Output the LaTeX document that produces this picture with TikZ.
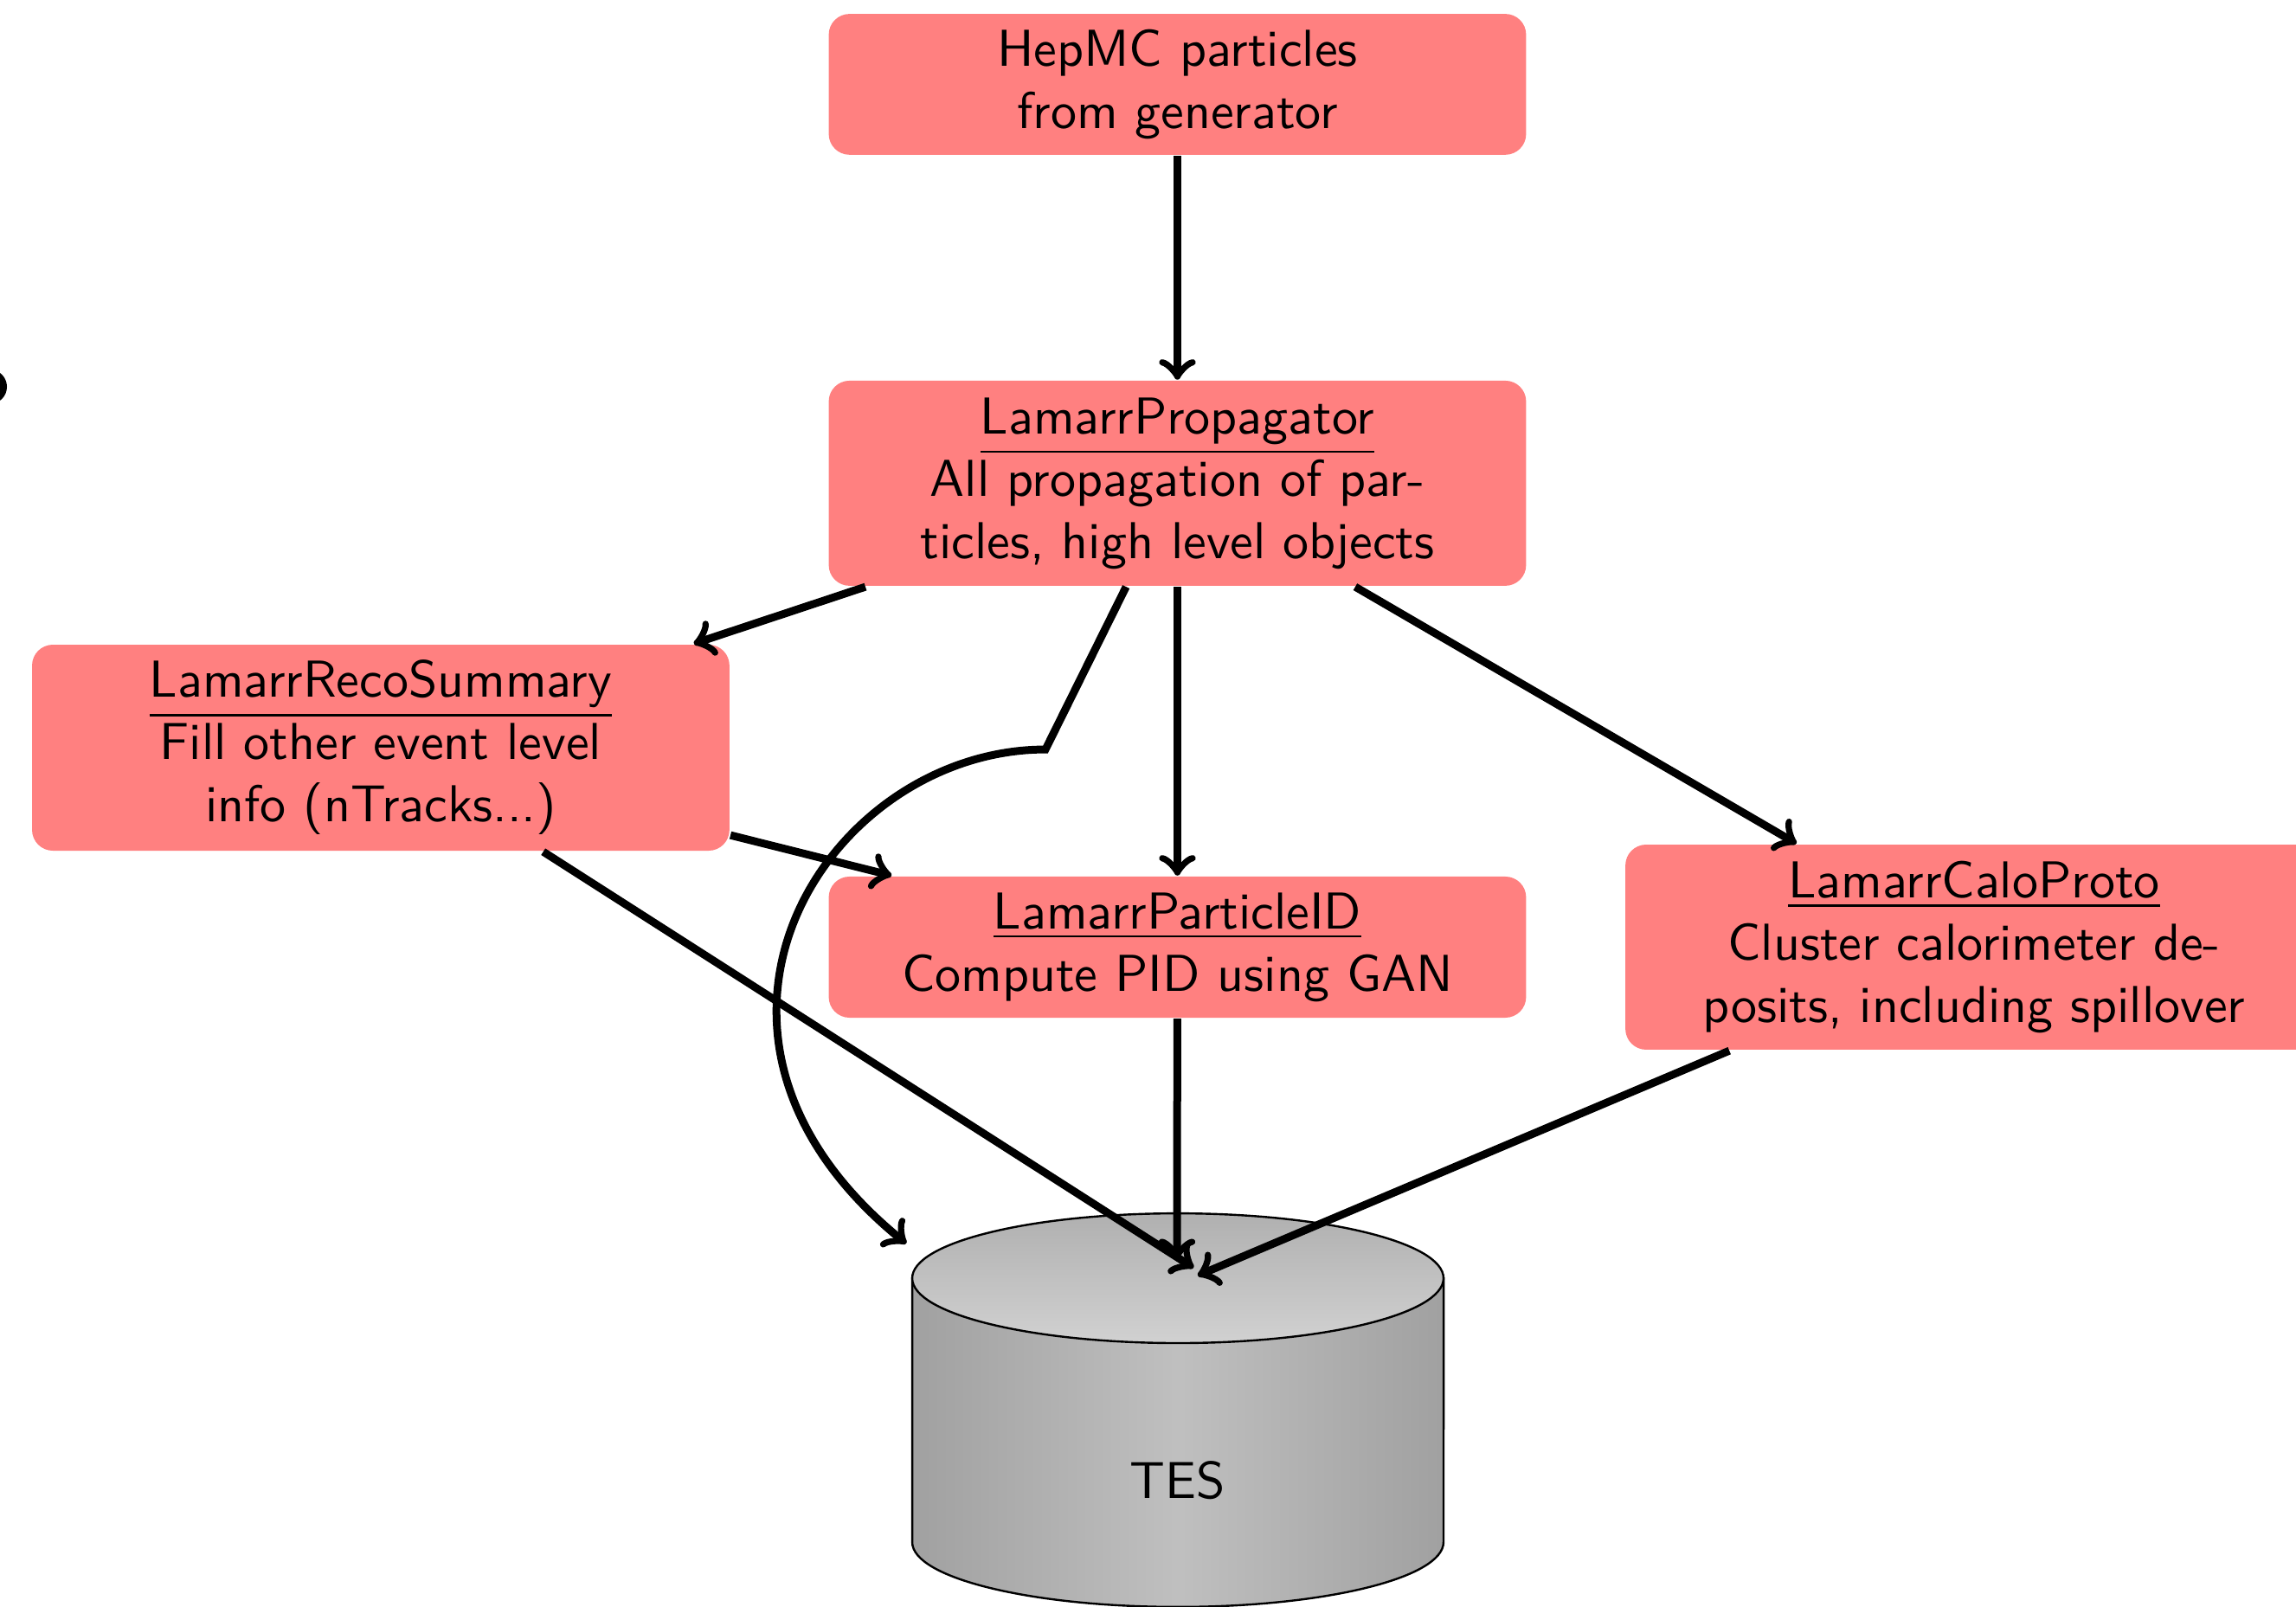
\documentclass[tikz,border=0pt]{standalone}
\usepackage{tikz}
\tikzset{
    algo-box/.style = {fill=red!50, rounded corners, align=center, minimum width=4.72cm, inner sep=3pt, font=\sffamily},
    flow-arrow/.style = {->, line width=1.5pt},
}

\begin{document}
\begin{tikzpicture}
\useasboundingbox (0,0) rectangle (15.54,-10.877);
\fill (-0.07,-2.618) circle (0.117);

\node[algo-box, minimum height=0.943cm] (hepmc) at (7.969,-0.571) {HepMC particles\\from generator};
\node[algo-box, minimum height=1.388cm] (prop) at (7.969,-3.271) {\underline{LamarrPropagator}\\All propagation of par-\\ticles, high level objects};
\node[algo-box, minimum height=1.394cm] (reco) at (2.577,-5.061) {\underline{LamarrRecoSummary}\\Fill other event level\\info (nTracks...)};
\node[algo-box, minimum height=0.955cm] (pid) at (7.969,-6.411) {\underline{LamarrParticleID}\\Compute PID using GAN};
\node[algo-box, minimum height=1.388cm] (calo) at (13.361,-6.411) {\underline{LamarrCaloProto}\\Cluster calorimeter de-\\posits, including spillover};

% TES store
\shade[left color=black!37, right color=black!37, middle color=black!25, draw=black, thin]
    (6.174,-8.652) -- (6.174,-10.438) arc[start angle=180, end angle=360, x radius=1.798, y radius=0.439] -- (9.771,-8.652) -- cycle;
\shade[top color=black!31, bottom color=black!18, draw=black, thin] (7.972,-8.652) ellipse [x radius=1.798, y radius=0.439];
\node[font=\sffamily] (tes) at (7.972,-10.022) {TES};

\coordinate (tes-reco) at (8.078,-8.581);
\coordinate (tes-pid) at (7.966,-8.523);
\coordinate (tes-calo) at (8.107,-8.634);
\coordinate (tes-prop) at (6.133,-8.417);
\coordinate (kink) at (7.076,-5.073);

\draw[flow-arrow] (hepmc) -- (prop);
\draw[flow-arrow] (prop) -- (reco);
\draw[flow-arrow] (prop) -- (pid);
\draw[flow-arrow] (prop) -- (calo);
\draw[flow-arrow] (reco) -- (pid);
\draw[flow-arrow] (reco) -- (tes-reco);
\draw[flow-arrow] (pid) -- (tes-pid);
\draw[flow-arrow] (calo) -- (tes-calo);
\draw[flow-arrow] (prop) -- (kink) .. controls (5.611,-5.073) and (4.364,-6.982) .. (tes-prop);
\end{tikzpicture}
\end{document}
